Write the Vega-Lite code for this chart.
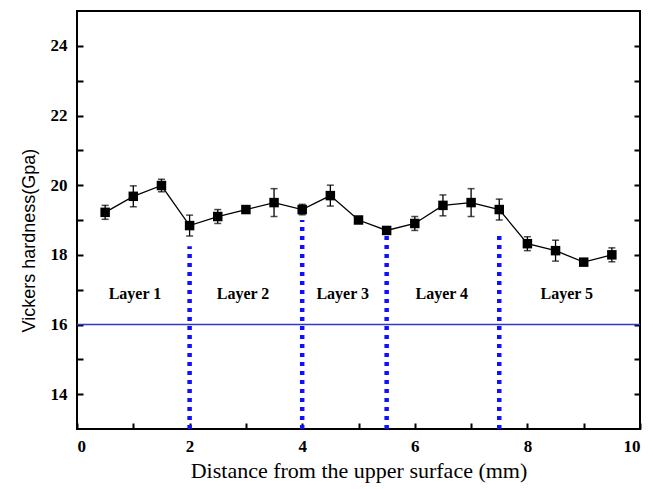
{
  "$schema": "https://vega.github.io/schema/vega-lite/v6.json",
  "autosize": "none",
  "padding": {"left": 77, "top": 11, "right": 13, "bottom": 60},
  "width": 563,
  "height": 418,
  "background": "white",
  "config": {
    "view": {"stroke": "black", "strokeWidth": 2},
    "axis": {"domain": false, "labelColor": "black", "titleColor": "black"}
  },
  "datasets": {
    "pts": [
      {"x": 0.5, "y": 19.22, "err": 0.2},
      {"x": 1.0, "y": 19.68, "err": 0.3},
      {"x": 1.5, "y": 19.99, "err": 0.18},
      {"x": 2.0, "y": 18.84, "err": 0.3},
      {"x": 2.5, "y": 19.1, "err": 0.2},
      {"x": 3.0, "y": 19.3, "err": 0.05},
      {"x": 3.5, "y": 19.5, "err": 0.4},
      {"x": 4.0, "y": 19.3, "err": 0.15},
      {"x": 4.5, "y": 19.7, "err": 0.3},
      {"x": 5.0, "y": 19.0, "err": 0.05},
      {"x": 5.5, "y": 18.7, "err": 0.05},
      {"x": 6.0, "y": 18.9, "err": 0.2},
      {"x": 6.5, "y": 19.42, "err": 0.3},
      {"x": 7.0, "y": 19.5, "err": 0.4},
      {"x": 7.5, "y": 19.3, "err": 0.3},
      {"x": 8.0, "y": 18.32, "err": 0.2},
      {"x": 8.5, "y": 18.12, "err": 0.3},
      {"x": 9.0, "y": 17.79, "err": 0.05},
      {"x": 9.5, "y": 18.0, "err": 0.2}
    ],
    "dividers": [
      {"x": 2.0, "y": 13, "y1": 18.25},
      {"x": 4.0, "y": 13, "y1": 19.0},
      {"x": 5.5, "y": 13, "y1": 18.65},
      {"x": 7.5, "y": 13, "y1": 18.65}
    ],
    "layers": [
      {"x": 1.03, "y": 16.88, "label": "Layer 1"},
      {"x": 2.95, "y": 16.88, "label": "Layer 2"},
      {"x": 4.72, "y": 16.88, "label": "Layer 3"},
      {"x": 6.48, "y": 16.88, "label": "Layer 4"},
      {"x": 8.7, "y": 16.88, "label": "Layer 5"}
    ],
    "hline": [{"y": 16, "x": 0, "x1": 10}]
  },
  "encoding": {
    "x": {"field": "x", "type": "quantitative", "scale": {"domain": [0, 10], "nice": false},
      "axis": {"orient": "bottom", "values": [0,1,2,3,4,5,6,7,8,9,10], "format": "d",
        "labelExpr": "datum.value % 2 === 0 ? datum.label : ''",
        "offset": -6, "ticks": true, "tickSize": 6, "tickColor": "black", "tickWidth": 2, "grid": false,
        "labelPadding": 9, "labelFont": "Liberation Serif", "labelFontSize": 17, "labelFontWeight": "bold",
        "title": "Distance from the upper surface (mm)", "titleFont": "Liberation Serif", "titleFontSize": 22, "titleFontWeight": "normal", "titlePadding": 6}},
    "y": {"field": "y", "type": "quantitative", "scale": {"domain": [13, 25], "nice": false, "zero": false},
      "axis": {"orient": "left", "values": [14,15,16,17,18,19,20,21,22,23,24], "format": "d",
        "labelExpr": "datum.value % 2 === 0 ? datum.label : ''",
        "ticks": false, "grid": true, "gridColor": "black", "gridWidth": 2, "gridOpacity": 1, "gridDash": [6, 551, 6, 1000],
        "labelPadding": 10, "labelFont": "Liberation Serif", "labelFontSize": 17, "labelFontWeight": "bold",
        "title": "Vickers hardness(Gpa)", "titleFont": "Liberation Sans", "titleFontSize": 18, "titleFontWeight": "normal", "titlePadding": 12, "titleAnchor": "middle", "titleAlign": "center", "titleY": 229}}
  },
  "layer": [
    {
      "data": {"name": "pts"},
      "mark": {"type": "line", "color": "black", "strokeWidth": 1.3}
    },
    {
      "data": {"name": "hline"},
      "mark": {"type": "rule", "color": "#3535d0", "strokeWidth": 1.5},
      "encoding": {
        "x2": {"field": "x1"}
      }
    },
    {
      "data": {"name": "dividers"},
      "mark": {"type": "rule", "color": "#1010ff", "strokeWidth": 4.5, "strokeDash": [4, 5]},
      "encoding": {
        "y2": {"field": "y1"}
      }
    },
    {
      "data": {"name": "pts"},
      "mark": {"type": "errorbar", "ticks": {"size": 7, "color": "black", "thickness": 1.5}, "rule": {"color": "black", "strokeWidth": 1.3}},
      "encoding": {
        "yError": {"field": "err"}
      }
    },
    {
      "data": {"name": "pts"},
      "mark": {"type": "point", "shape": "square", "filled": true, "color": "black", "size": 90, "opacity": 1}
    },
    {
      "data": {"name": "layers"},
      "mark": {"type": "text", "font": "Liberation Serif", "fontSize": 16, "fontWeight": "bold", "color": "black"},
      "encoding": {
        "text": {"field": "label"}
      }
    }
  ]
}
